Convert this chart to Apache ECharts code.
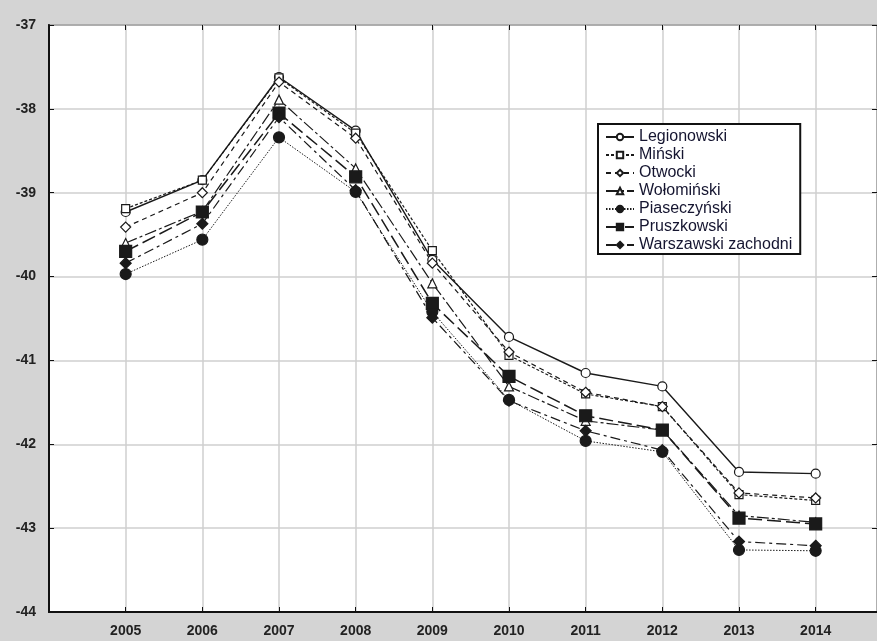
<!DOCTYPE html>
<html>
<head>
<meta charset="utf-8">
<script src="https://cdn.jsdelivr.net/npm/echarts@6/dist/echarts.min.js"></script>
<style>
  html, body { margin: 0; padding: 0; background: #d4d4d4; }
  #chart { width: 877px; height: 641px; }
</style>
</head>
<body>
<div id="chart"></div>
<script>
const years = [2005, 2006, 2007, 2008, 2009, 2010, 2011, 2012, 2013, 2014];

const legionowski = [-39.23, -38.85, -37.62, -38.26, -39.80, -40.72, -41.15, -41.31, -42.33, -42.35];
const minski      = [-39.19, -38.85, -37.63, -38.29, -39.69, -40.94, -41.40, -41.55, -42.60, -42.67];
const otwocki     = [-39.41, -39.00, -37.68, -38.35, -39.84, -40.90, -41.38, -41.55, -42.58, -42.64];
const wolominski  = [-39.60, -39.22, -37.89, -38.71, -40.08, -41.31, -41.72, -41.83, -42.85, -42.93];
const piaseczynski = [-39.97, -39.56, -38.34, -38.99, -40.42, -41.47, -41.96, -42.09, -43.26, -43.27];
const pruszkowski = [-39.70, -39.23, -38.05, -38.81, -40.32, -41.19, -41.66, -41.83, -42.88, -42.95];
const warszawski  = [-39.84, -39.37, -38.10, -38.97, -40.49, -41.48, -41.84, -42.07, -43.16, -43.21];

const chart = echarts.init(document.getElementById('chart'));

const ink = '#1a1a1a';
const labelFont = { color: '#222', fontSize: 14, fontWeight: 'bold', fontFamily: 'Liberation Sans Narrow, Liberation Sans, Arial, sans-serif' };

function line(name, values, symbol, size, filled, dash, width) {
    return {
        name: name,
        type: 'line',
        data: years.map((y, i) => [y, values[i]]),
        symbol: symbol,
        symbolSize: size,
        showSymbol: true,
        lineStyle: { color: ink, width: width || 1.2, type: dash },
        itemStyle: {
            color: filled ? ink : '#fff',
            borderColor: ink,
            borderWidth: 1.2
        },
        emphasis: { disabled: true },
        z: 3
    };
}

const option = {
    backgroundColor: '#d4d4d4',
    animation: false,
    grid: {
        left: 49, top: 25, right: 0, bottom: 29,
        show: true,
        backgroundColor: '#fff',
        borderColor: '#111',
        borderWidth: 1.5
    },
    legend: {
        orient: 'vertical',
        left: 598,
        top: 124,
        padding: [5, 8, 1, 7],
        itemWidth: 28,
        itemHeight: 8,
        itemGap: 2,
        backgroundColor: '#fff',
        borderColor: '#111',
        borderWidth: 2,
        borderRadius: 0,
        textStyle: { color: '#151530', fontSize: 16, lineHeight: 16, fontFamily: 'Liberation Sans, Arial, sans-serif' },
        data: ['Legionowski', 'Miński', 'Otwocki', 'Wołomiński', 'Piaseczyński', 'Pruszkowski', 'Warszawski zachodni']
    },
    xAxis: [{
        type: 'value',
        min: 2004,
        max: 2014.8,
        interval: 1,
        axisLine: { show: true, lineStyle: { color: '#111', width: 2 } },
        axisTick: { show: true, inside: true, length: 5, lineStyle: { color: '#111' } },
        axisLabel: Object.assign({
            margin: 12,
            showMinLabel: false,
            showMaxLabel: false,
            formatter: v => (Number.isInteger(v) && v >= 2005) ? String(v) : ''
        }, labelFont),
        splitLine: { show: true, lineStyle: { color: '#cfcfcf', width: 1.5 } }
    }, {
        type: 'value',
        position: 'top',
        min: 2004,
        max: 2014.8,
        interval: 1,
        axisLine: { show: false },
        axisTick: { show: true, inside: true, length: 5, lineStyle: { color: '#111' } },
        axisLabel: { show: false },
        splitLine: { show: false }
    }],
    yAxis: [{
        type: 'value',
        min: -44,
        max: -37,
        interval: 1,
        axisLine: { show: true, lineStyle: { color: '#111', width: 2 } },
        axisTick: { show: true, inside: true, length: 5, lineStyle: { color: '#111' } },
        axisLabel: Object.assign({ margin: 13 }, labelFont),
        splitLine: { show: true, lineStyle: { color: '#cfcfcf', width: 1.5 } }
    }, {
        type: 'value',
        position: 'right',
        min: -44,
        max: -37,
        interval: 1,
        axisLine: { show: false },
        axisTick: { show: true, inside: true, length: 5, lineStyle: { color: '#111' } },
        axisLabel: { show: false },
        splitLine: { show: false }
    }],
    series: [
        line('Legionowski', legionowski, 'circle', 9, false, 'solid', 1.4),
        line('Miński', minski, 'rect', 8, false, [3, 2]),
        line('Otwocki', otwocki, 'diamond', 10, false, [5, 4]),
        line('Wołomiński', wolominski, 'triangle', 9, false, [12, 3, 3, 3]),
        line('Piaseczyński', piaseczynski, 'circle', 11, true, [1.5, 1.5], 1),
        line('Pruszkowski', pruszkowski, 'rect', 12, true, [14, 5], 1.5),
        line('Warszawski zachodni', warszawski, 'diamond', 11, true, [10, 4, 3, 4])
    ]
};

chart.setOption(option);
</script>
</body>
</html>
